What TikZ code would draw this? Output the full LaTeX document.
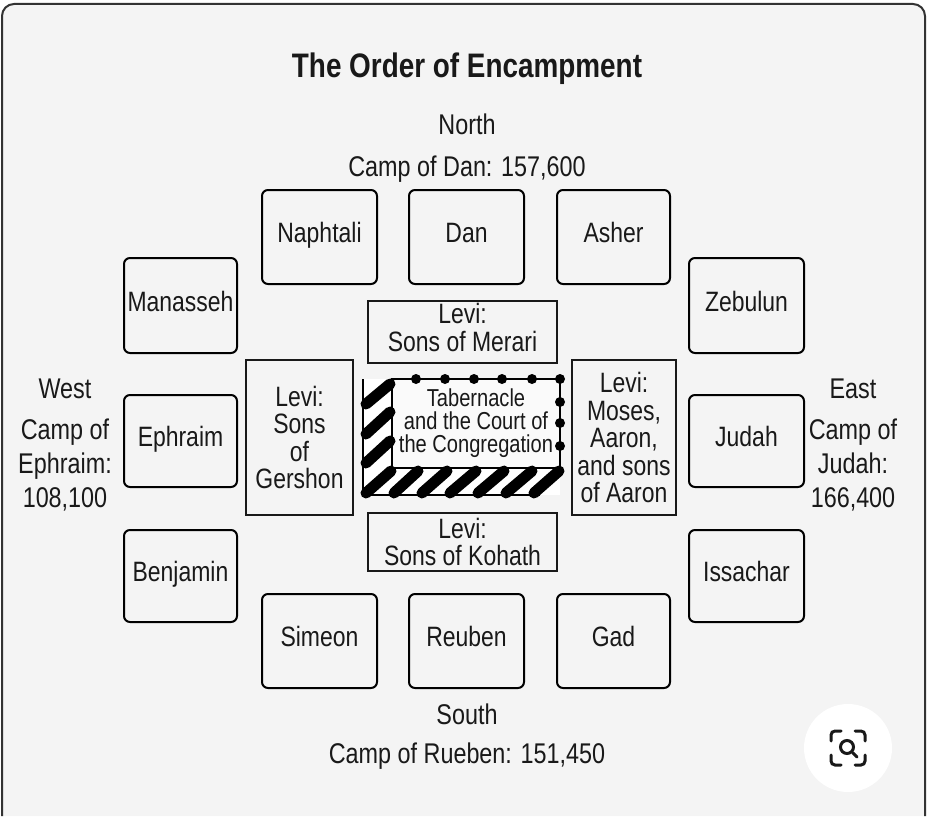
\documentclass[tikz,border=0pt]{standalone}
\usepackage{fontspec}
\setmainfont[FakeStretch=0.82]{Liberation Sans}
\begin{document}
\begin{tikzpicture}[x=1pt,y=-1pt,
  tribe/.style={draw=black,line width=2pt,rounded corners=6pt,fill=none,inner sep=0pt,align=center,text height=19pt,text depth=8pt,font=\fontsize{28}{28}\selectfont,text=black!90},
  levi/.style={draw=black!90,line width=1.7pt,inner sep=0pt,align=center,font=\fontsize{28}{27.5}\selectfont,text=black!90},
  lab/.style={inner sep=0pt,align=center,font=\fontsize{28.5}{34}\selectfont,text=black!90},
  hatch/.style={line width=11pt,line cap=round,black},
  dot/.style={circle,fill=black,inner sep=0pt,minimum size=10pt}]
\useasboundingbox (0,0) rectangle (928,816);
\fill[white] (0,0) rectangle (928,816);
\fill[fill=black!4.5] (2,816) -- (2,16) [rounded corners=12pt] -- (2,4) -- (925,4) [sharp corners] -- (925,816) -- cycle;
\draw[black!80,line width=2pt,rounded corners=12pt] (2,816) -- (2,4) -- (925,4) -- (925,816);

\node[font=\bfseries\fontsize{34}{34}\selectfont,text=black!90,inner sep=0pt] (title) at (467,69) {The Order of Encampment};
\node[lab] (north) at (467,124) {North};
\node[lab] (dancamp) at (467,169) {Camp of Dan: 157,600};
\node[lab] (south) at (467,714) {South};
\node[lab] (rubcamp) at (467,756) {Camp of Rueben: 151,450};
\node[lab] (west) at (65,389) {West};
\node[lab] (ephcamp) at (65,465) {Camp of\\Ephraim:\\108,100};
\node[lab] (east) at (853,389) {East};
\node[lab] (judcamp) at (853,465) {Camp of\\Judah:\\166,400};

\node[tribe,minimum width=115pt,minimum height=94pt] (naphtali) at (319.5,237) {Naphtali};
\node[tribe,minimum width=115pt,minimum height=94pt] (dan) at (466.5,237) {Dan};
\node[tribe,minimum width=113pt,minimum height=94pt] (asher) at (613.5,237) {Asher};
\node[tribe,minimum width=113pt,minimum height=95pt] (manasseh) at (180.5,305.5) {Manasseh};
\node[tribe,minimum width=115pt,minimum height=95pt] (zebulun) at (746.5,305.5) {Zebulun};
\node[tribe,minimum width=113pt,minimum height=92pt] (ephraim) at (180.5,441) {Ephraim};
\node[tribe,minimum width=115pt,minimum height=92pt] (judah) at (746.5,441) {Judah};
\node[tribe,minimum width=113pt,minimum height=92pt] (benjamin) at (180.5,576) {Benjamin};
\node[tribe,minimum width=115pt,minimum height=92pt] (issachar) at (746.5,576) {Issachar};
\node[tribe,minimum width=115pt,minimum height=94pt] (simeon) at (319.5,641) {Simeon};
\node[tribe,minimum width=115pt,minimum height=94pt] (reuben) at (466.5,641) {Reuben};
\node[tribe,minimum width=113pt,minimum height=94pt] (gad) at (613.5,641) {Gad};

\node[levi,minimum width=189pt,minimum height=62pt] (merari) at (462.5,332) {Levi:\\Sons of Merari\rule[-9pt]{0pt}{1pt}};
\node[levi,minimum width=189pt,minimum height=58pt] (kohath) at (462.5,542) {Levi:\\Sons of Kohath};
\node[levi,minimum width=107pt,minimum height=155pt] (gershon) at (299.5,437.5) {Levi:\\Sons\\of\\Gershon};
\node[levi,minimum width=104pt,minimum height=155pt] (moses) at (624,437.5) {Levi:\\Moses,\\Aaron,\\and sons\\of Aaron};

% tabernacle court
\fill[white] (363,379) rectangle (392,495);
\fill[white] (363,468) rectangle (560,495);
\draw[black,line width=1.7pt] (363,379) -- (363,495) -- (540,495);
\node[draw=black,line width=2pt,minimum width=168pt,minimum height=89pt,inner sep=0pt,align=center,font=\fontsize{24.5}{23}\selectfont,text=black!90,fill=black!2] (tab) at (476,423.5) {Tabernacle\\and the Court of\\the Congregation};
\draw[hatch] (366,404) -- (390,384);
\draw[hatch] (366,434) -- (390,412);
\draw[hatch] (366,463) -- (390,441);
\draw[hatch] (366,493) -- (391,471);
\draw[hatch] (394,493) -- (418,471);
\draw[hatch] (422,493) -- (447,471);
\draw[hatch] (450,493) -- (476,471);
\draw[hatch] (478,493) -- (504,471);
\draw[hatch] (506,493) -- (532,471);
\draw[hatch] (534,493) -- (559,471);
\foreach \n/\px/\py in {a/416/379,b/445/379,c/474/379,d/502/379,e/532/379,f/560/379,g/560/402,h/560/423,i/560/446}
  \node[dot] (d\n) at (\px,\py) {};

% zoom button
\node[circle,fill=white,minimum size=88pt,inner sep=0pt] (btn) at (848,748) {};
\node[circle,draw=black!90,line width=3pt,minimum size=13pt,inner sep=0pt] (lens) at (847,747) {};
\coordinate (hnd) at (857,757);
\draw[black!90,line width=3pt,line cap=round] (lens.south east) -- (hnd);
\begin{scope}[black!90,line width=3pt,line cap=round,rounded corners=4pt]
\draw (831,741) -- (831,731) -- (841,731);
\draw (855,731) -- (865,731) -- (865,741);
\draw (865,755) -- (865,765) -- (855,765);
\draw (841,765) -- (831,765) -- (831,755);
\end{scope}
\end{tikzpicture}
\end{document}
